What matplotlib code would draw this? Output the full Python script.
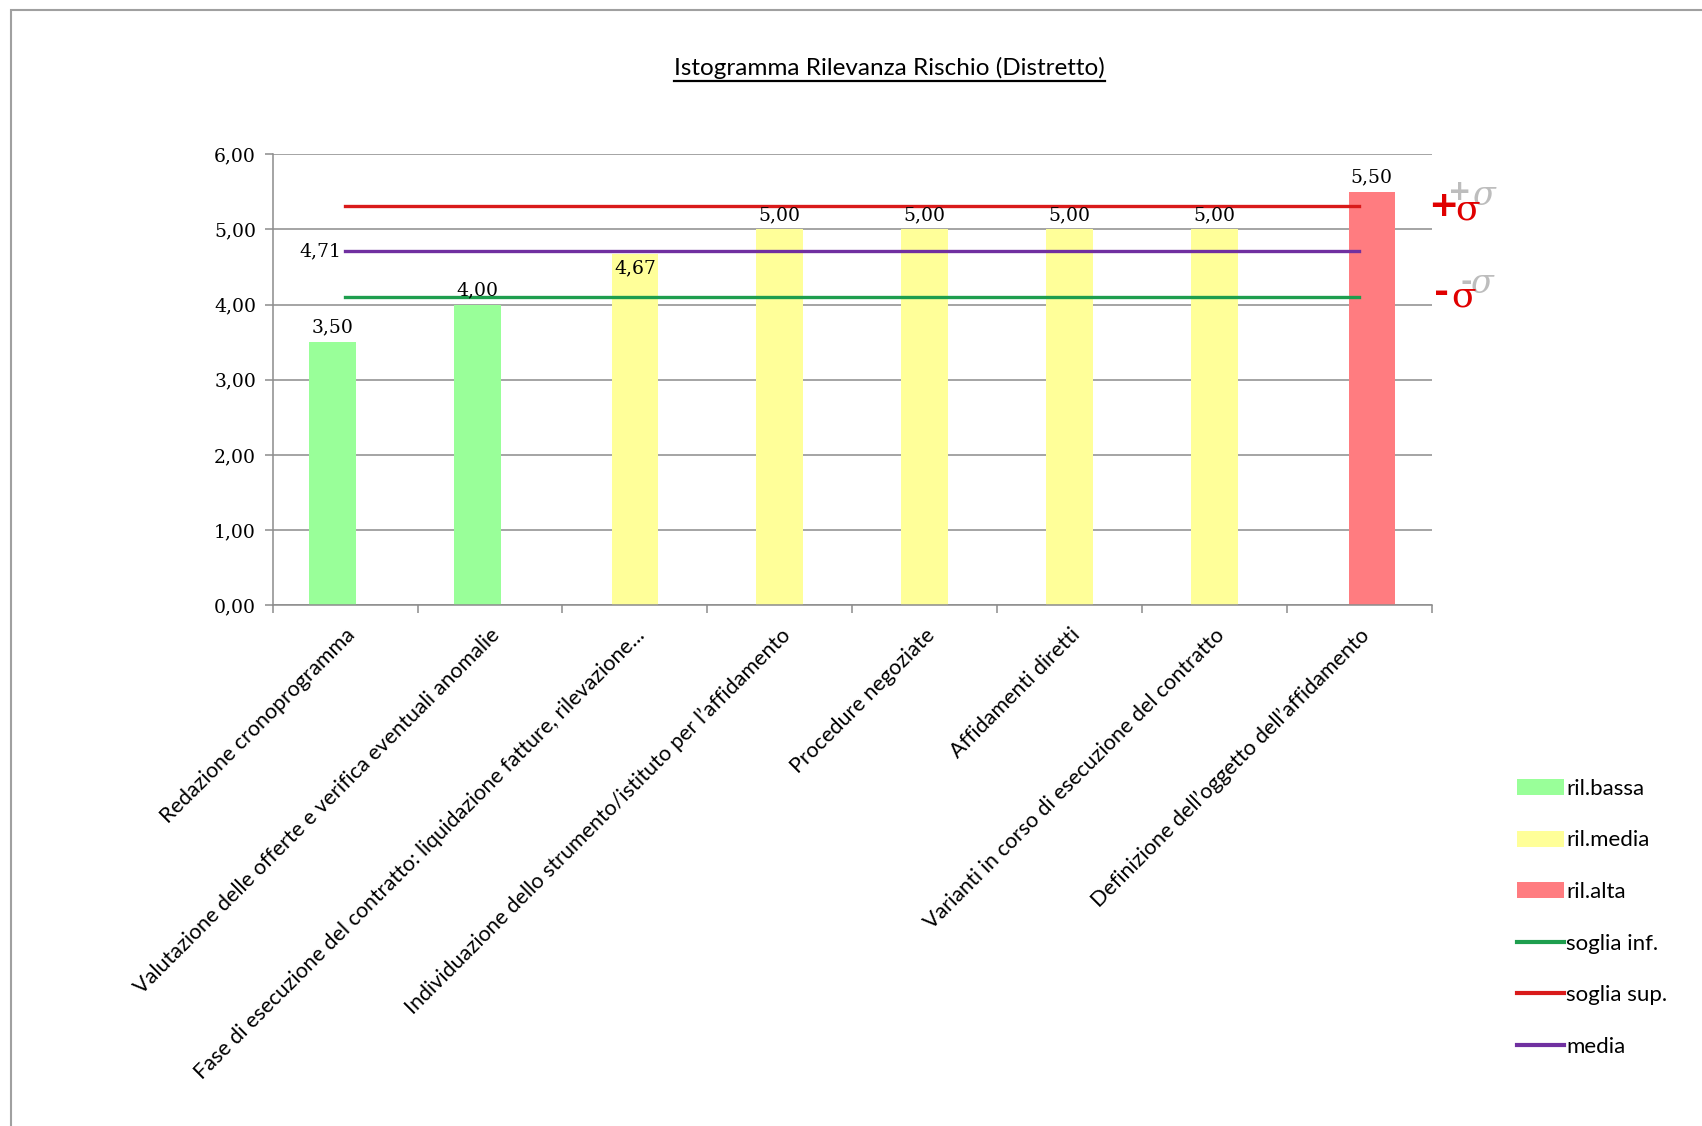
import numpy as np
import matplotlib
matplotlib.use("Agg")
import matplotlib.pyplot as plt
from matplotlib.patches import Patch, Rectangle
from matplotlib.lines import Line2D

# data
categories = [
    "Redazione cronoprogramma",
    "Valutazione delle offerte e verifica eventuali anomalie",
    "Fase di esecuzione del contratto: liquidazione fatture, rilevazione...",
    "Individuazione dello strumento/istituto per l\u2019affidamento",
    "Procedure negoziate",
    "Affidamenti diretti",
    "Varianti in corso di esecuzione del contratto",
    "Definizione dell\u2019oggetto dell\u2019affidamento",
]
values = [3.50, 4.00, 4.67, 5.00, 5.00, 5.00, 5.00, 5.50]
levels = ["bassa", "bassa", "media", "media", "media", "media", "media", "alta"]
soglia_inf = [4.10] * 8
soglia_sup = [5.31] * 8
media = [4.71] * 8

W, H = 1702, 1126
plt.rcParams["font.family"] = ["Lato", "DejaVu Sans"]

fig = plt.figure(figsize=(W / 100, H / 100), dpi=100)
fig.patch.set_facecolor("white")


def fx(px):
    return px / W


def fy(py):
    return 1 - py / H


ax = fig.add_axes([fx(272.7), fy(605.3), fx(1431.7) - fx(272.7), fy(154.3) - fy(605.3)])

x = np.arange(len(categories)) + 0.5
vals = np.array(values)
lv = np.array(levels)

series = [
    ("bassa", -0.087, "#99FF99", "ril.bassa"),
    ("media", 0.0, "#FFFF99", "ril.media"),
    ("alta", 0.087, "#FF7C80", "ril.alta"),
]
bw = 0.322
num_font = dict(fontsize=13.5, family="DejaVu Serif")
for key, off, col, lab in series:
    mask = lv == key
    ax.bar(x[mask] + off, vals[mask], width=bw, color=col, zorder=2)
    for xi, v in zip(x[mask] + off, vals[mask]):
        s = f"{v:.2f}".replace(".", ",")
        if abs(v - 4.67) < 1e-6:
            ax.annotate(s, (xi, v), xytext=(0, -4), textcoords="offset points",
                        ha="center", va="top", zorder=5, **num_font)
        else:
            ax.annotate(s, (xi, v), xytext=(0, 4), textcoords="offset points",
                        ha="center", va="bottom", zorder=5, **num_font)

c_inf, c_sup, c_med = "#1E9E4E", "#D91A1A", "#7030A0"
ax.plot(x, soglia_inf, color=c_inf, lw=2.4, zorder=3)
ax.plot(x, soglia_sup, color=c_sup, lw=2.4, zorder=3)
ax.plot(x, media, color=c_med, lw=2.4, zorder=3)
ax.annotate(f"{media[0]:.2f}".replace(".", ","), (x[0], media[0]), xytext=(-3, 0),
            textcoords="offset points", ha="right", va="center", **num_font)

ax.set_xlim(0, len(categories))
ax.set_ylim(0, 6)
ax.set_yticks(np.arange(0, 7, 1))
ax.set_yticklabels([f"{v:.2f}".replace(".", ",") for v in np.arange(0, 7, 1)], **num_font)
ax.yaxis.grid(True, color="#8C8C8C", lw=1.1, zorder=0)
ax.set_axisbelow(True)
for sp in ["top", "right"]:
    ax.spines[sp].set_visible(False)
for sp in ["left", "bottom"]:
    ax.spines[sp].set_color("#8C8C8C")
    ax.spines[sp].set_linewidth(1.1)
ax.tick_params(axis="y", length=6, width=1.1, color="#8C8C8C", pad=6)
ax.set_xticks(np.arange(0, len(categories) + 1))
ax.set_xticklabels([])
ax.tick_params(axis="x", which="major", length=6, width=1.1, color="#8C8C8C")
ax.set_xticks(x, minor=True)
ax.set_xticklabels(categories, minor=True, rotation=45, ha="right",
                   rotation_mode="anchor", fontsize=15.5)
ax.tick_params(axis="x", which="minor", length=0, pad=14)

# sigma markers on the right (faded copy behind, red on top)
grey = "#BDBDBD"
fig.text(fx(1460), fy(192), "+", color=grey, fontsize=20, ha="center", va="center",
         fontweight="bold", family="DejaVu Sans")
fig.text(fx(1483), fy(196), "\u03c3", color=grey, fontsize=24, ha="center", va="center",
         style="italic", family="DejaVu Serif")
fig.text(fx(1443), fy(206), "+", color="#E00000", fontsize=26, ha="center", va="center",
         fontweight="bold", family="DejaVu Sans")
fig.text(fx(1468), fy(209), "\u03c3", color="#E00000", fontsize=26, ha="center", va="center",
         family="DejaVu Serif")
fig.text(fx(1466), fy(282), "-", color=grey, fontsize=20, ha="center", va="center",
         fontweight="bold", family="DejaVu Sans")
fig.text(fx(1481), fy(284), "\u03c3", color=grey, fontsize=24, ha="center", va="center",
         style="italic", family="DejaVu Serif")
fig.text(fx(1442), fy(293), "-", color="#E00000", fontsize=26, ha="center", va="center",
         fontweight="bold", family="DejaVu Sans")
fig.text(fx(1464), fy(296), "\u03c3", color="#E00000", fontsize=26, ha="center", va="center",
         family="DejaVu Serif")

handles = [
    Patch(facecolor="#99FF99", edgecolor="none"),
    Patch(facecolor="#FFFF99", edgecolor="none"),
    Patch(facecolor="#FF7C80", edgecolor="none"),
    Line2D([], [], color=c_inf, lw=3),
    Line2D([], [], color=c_sup, lw=3),
    Line2D([], [], color=c_med, lw=3),
]
labels = ["ril.bassa", "ril.media", "ril.alta", "soglia inf.", "soglia sup.", "media"]
fig.legend(handles, labels, loc="upper left", bbox_to_anchor=(fx(1508), fy(770)),
           frameon=False, fontsize=16, handlelength=2.1, handleheight=0.75,
           handletextpad=0.12, labelspacing=1.42, borderaxespad=0)

title = fig.text(fx(889.5), fy(68), "Istogramma Rilevanza Rischio (Distretto)",
                 ha="center", va="center", fontsize=17.5)

# outer border (only top and left visible in the reference)
fig.add_artist(Rectangle((fx(11), -0.5), 2, fy(10) + 0.5, transform=fig.transFigure,
                         fill=False, edgecolor="#A0A0A0", lw=1.5))

# underline the title
fig.canvas.draw()
bb = title.get_window_extent(fig.canvas.get_renderer())
fig.add_artist(Line2D([bb.x0 / W, bb.x1 / W], [(bb.y0 - 2) / H, (bb.y0 - 2) / H],
                      transform=fig.transFigure, color="black", lw=1.6))

fig.savefig("out.png", dpi=100)
